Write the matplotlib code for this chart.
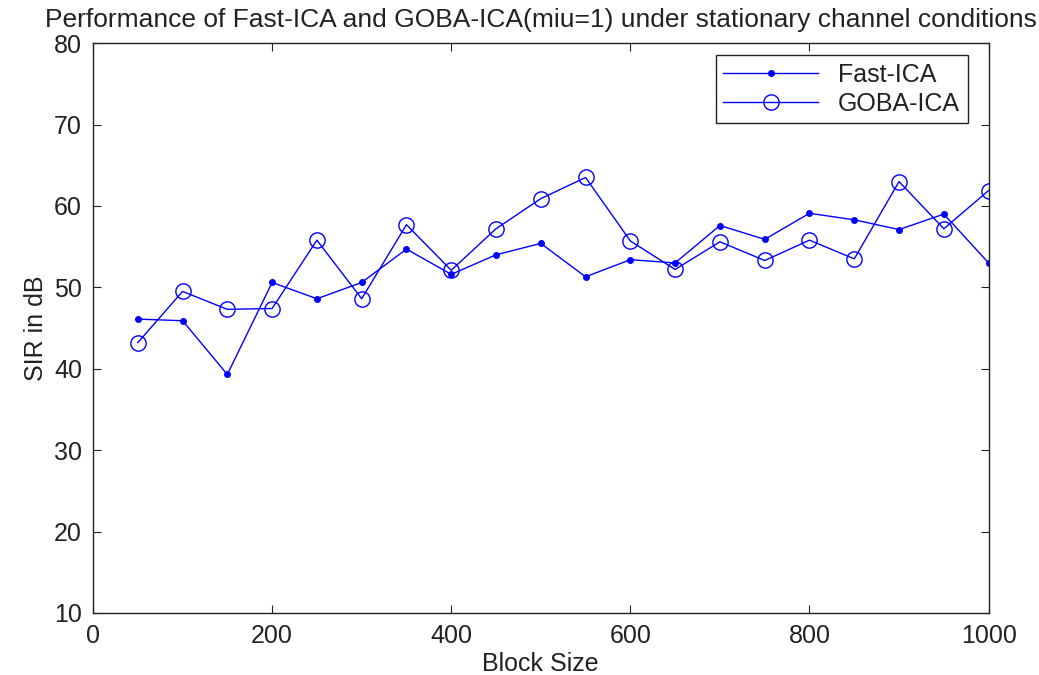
import matplotlib.pyplot as plt
import numpy as np

plt.rcParams['font.family'] = ['Liberation Sans', 'DejaVu Sans']

block_size = [50, 100, 150, 200, 250, 300, 350, 400, 450, 500,
              550, 600, 650, 700, 750, 800, 850, 900, 950, 1000]
fast_ica = [46.1, 45.9, 39.3, 50.6, 48.6, 50.6, 54.7, 51.6, 54.0, 55.4,
            51.3, 53.4, 53.0, 57.6, 55.9, 59.1, 58.3, 57.1, 59.0, 53.0]
goba_ica = [43.2, 49.5, 47.3, 47.4, 55.8, 48.6, 57.7, 52.1, 57.2, 60.9,
            63.5, 55.7, 52.2, 55.6, 53.3, 55.8, 53.5, 63.0, 57.2, 61.9]

fig = plt.figure(figsize=(10.39, 6.75), dpi=100)
ax = fig.add_axes([0.0895, 0.092, 0.862, 0.844])

ax.plot(block_size, fast_ica, color='blue', lw=1.0, marker='.', markersize=8,
        label='Fast-ICA')
ax.plot(block_size, goba_ica, color='blue', lw=1.0, marker='o', markersize=11,
        markerfacecolor='none', markeredgewidth=1.0, label='GOBA-ICA')

ax.set_xlim(0, 1000)
ax.set_ylim(10, 80)
ax.set_xticks(np.arange(0, 1001, 200))
ax.set_yticks(np.arange(10, 81, 10))
ax.tick_params(direction='in', top=True, right=True, length=6, labelsize=18,
               colors='#222222', pad=8)
for s in ax.spines.values():
    s.set_linewidth(1.0)
    s.set_color('#222222')

ax.set_xlabel('Block Size', fontsize=18, labelpad=3, color='#222222')
ax.set_ylabel('SIR in dB', fontsize=18, labelpad=4, color='#222222')
ax.set_title('Performance of Fast-ICA and GOBA-ICA(miu=1) under stationary channel conditions',
             fontsize=19, pad=12, color='#222222')

leg = ax.legend(loc='upper right', fontsize=18, fancybox=False, framealpha=1,
                edgecolor='#222222', borderpad=0.3, handlelength=3.8,
                labelspacing=0.2, borderaxespad=0,
                bbox_to_anchor=(0.9765, 0.979))
leg.get_frame().set_linewidth(1.0)
for t in leg.get_texts():
    t.set_color('#222222')

plt.savefig('out.png', dpi=100)
